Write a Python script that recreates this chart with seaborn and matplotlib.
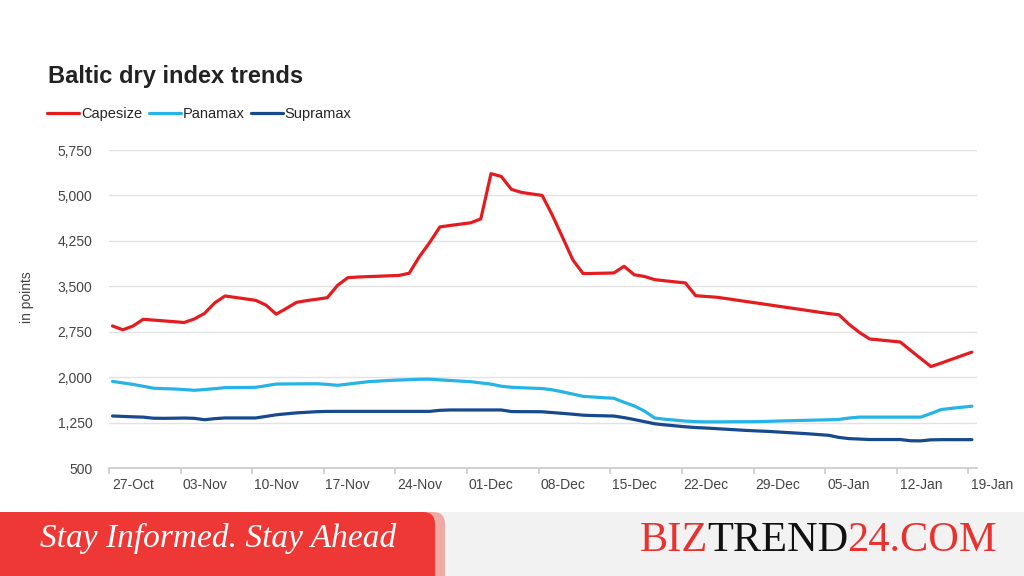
import pandas as pd
import seaborn as sns
import matplotlib.pyplot as plt
import matplotlib.dates as mdates
from matplotlib.patches import FancyBboxPatch, Rectangle
from matplotlib.transforms import ScaledTranslation
from matplotlib.ticker import FuncFormatter

# daily readings, 25-Oct-2023 .. 17-Jan-2024
dates = pd.date_range("2023-10-25", "2024-01-17", freq="D")

capesize = [2845, 2782, 2843, 2955, 2942, 2929, 2916, 2902, 2960, 3053,
            3227, 3340, 3316, 3292, 3268, 3190, 3040, 3135, 3235, 3264,
            3287, 3312, 3515, 3642, 3653, 3660, 3666, 3673, 3679, 3715,
            3990, 4222, 4480, 4504, 4526, 4548, 4612, 5360, 5313, 5100,
            5049, 5024, 5000, 4672, 4305, 3935, 3710, 3713, 3716, 3720,
            3830, 3690, 3662, 3610, 3591, 3573, 3555, 3345, 3332, 3320,
            3297, 3272, 3247, 3223, 3198, 3173, 3148, 3124, 3099, 3074,
            3050, 3030, 2872, 2740, 2630, 2614, 2597, 2580, 2443, 2308,
            2175, 2232, 2293, 2353, 2413]

panamax = [1930, 1905, 1880, 1850, 1818, 1810, 1805, 1795, 1783, 1795,
           1810, 1826, 1829, 1830, 1832, 1858, 1886, 1888, 1889, 1890,
           1891, 1880, 1865, 1885, 1905, 1925, 1935, 1945, 1952, 1958,
           1965, 1966, 1955, 1945, 1935, 1925, 1905, 1885, 1850, 1833,
           1825, 1818, 1812, 1790, 1757, 1720, 1683, 1672, 1660, 1652,
           1585, 1525, 1440, 1325, 1305, 1290, 1275, 1265, 1262, 1262,
           1263, 1264, 1265, 1266, 1270, 1275, 1280, 1284, 1288, 1292,
           1296, 1302, 1325, 1340, 1340, 1340, 1340, 1340, 1340, 1340,
           1400, 1465, 1485, 1503, 1520]

supramax = [1359, 1352, 1345, 1340, 1322, 1320, 1322, 1325, 1320, 1297,
            1315, 1326, 1326, 1326, 1326, 1352, 1378, 1395, 1410, 1420,
            1430, 1434, 1435, 1435, 1435, 1435, 1435, 1435, 1435, 1435,
            1435, 1435, 1452, 1458, 1458, 1458, 1458, 1458, 1458, 1432,
            1430, 1430, 1428, 1415, 1402, 1388, 1372, 1366, 1362, 1358,
            1332, 1300, 1265, 1230, 1212, 1196, 1180, 1168, 1160, 1150,
            1140, 1130, 1120, 1112, 1105, 1095, 1085, 1075, 1065, 1052,
            1040, 1005, 985, 978, 970, 970, 970, 970, 950, 948,
            965, 968, 968, 968, 968]

series_names = ["Capesize", "Panamax", "Supramax"]
colors = {"Capesize": "#e51c1f", "Panamax": "#26b4e6", "Supramax": "#17498f"}
y_ticks = [500, 1250, 2000, 2750, 3500, 4250, 5000, 5750]
label_dates = pd.date_range("2023-10-27", periods=13, freq="7D")

df = pd.DataFrame({"date": dates, "Capesize": capesize,
                   "Panamax": panamax, "Supramax": supramax})
long_df = df.melt(id_vars="date", value_vars=series_names,
                  var_name="series", value_name="points")

sns.set_theme(style="white")
plt.rcParams["font.family"] = ["Liberation Sans", "DejaVu Sans"]
serif = ["Liberation Serif", "DejaVu Serif"]

fig = plt.figure(figsize=(10.24, 5.76), dpi=100)
ax = fig.add_axes([109 / 1024, 1 - 468 / 576, 868 / 1024, 318 / 576])

sns.lineplot(data=long_df, x="date", y="points", hue="series",
             palette=colors, linewidth=2.3, ax=ax)

# axes styling
ax.set_ylim(500, 5750)
ax.set_yticks(y_ticks)
ax.yaxis.set_major_formatter(FuncFormatter(lambda v, p: f"{int(v):,}"))
ax.grid(axis="y", color="#e2e2e2", linewidth=1)
ax.set_axisbelow(True)
for side in ["top", "right", "left"]:
    ax.spines[side].set_visible(False)
ax.spines["bottom"].set_color("#cccccc")

ax.set_xlim(mdates.date2num(dates[0]) - 0.34, mdates.date2num(dates[-1]) + 0.5)
# tick marks sit ~2.3 days left of each date label
tick_pos = mdates.date2num(label_dates) - 2.34
ax.set_xticks(tick_pos)
ax.set_xticklabels([d.strftime("%d-%b") for d in label_dates])
ax.tick_params(axis="x", length=4, color="#cccccc", labelsize=10,
               labelcolor="#444444", pad=3, bottom=True)
ax.tick_params(axis="y", length=0, labelsize=10, labelcolor="#444444", pad=12)
shift = ScaledTranslation(0.24, 0, fig.dpi_scale_trans)
for lab in ax.get_xticklabels():
    lab.set_transform(lab.get_transform() + shift)

ax.set_xlabel("")
ax.set_ylabel("in points", fontsize=10, color="#444444")
ax.yaxis.set_label_coords(-0.0864, 0.536)

# legend on top
handles, labels = ax.get_legend_handles_labels()
ax.get_legend().remove()
fig.legend(handles, labels, loc="center left",
           bbox_to_anchor=(47 / 1024, 1 - 114 / 576), ncol=3, frameon=False,
           fontsize=10.5, handlelength=2.2, handletextpad=0.12,
           columnspacing=0.45, borderpad=0, borderaxespad=0)

fig.text(48 / 1024, 1 - 77 / 576, "Baltic dry index trends", fontsize=17,
         fontweight="bold", color="#222222", va="center", ha="left")

# footer banner
fig.patches.append(Rectangle((0, 0), 1, 64 / 576, transform=fig.transFigure,
                             facecolor="#f2f2f2", edgecolor="none", zorder=0))
fig.patches.append(FancyBboxPatch((-0.3, -0.3), 4.75, 0.94,
                                  boxstyle="round,pad=0,rounding_size=0.12",
                                  transform=fig.dpi_scale_trans,
                                  facecolor="#f0a9a6", edgecolor="none", zorder=1))
fig.patches.append(FancyBboxPatch((-0.3, -0.3), 4.65, 0.94,
                                  boxstyle="round,pad=0,rounding_size=0.12",
                                  transform=fig.dpi_scale_trans,
                                  facecolor="#ee3835", edgecolor="none", zorder=2))
fig.text(218 / 1024, 1 - 538 / 576, "Stay Informed. Stay Ahead",
         family=serif, style="italic", fontsize=24, color="white",
         ha="center", va="center", zorder=3)

# multi-colour site name, pieces placed one after another
parts = [("BIZ", "#e8322f"), ("TREND", "#111111"), ("24.COM", "#e8322f")]
fig.canvas.draw()
renderer = fig.canvas.get_renderer()
x_px = 640
for txt, col in parts:
    t = fig.text(x_px / 1024, 1 - 551 / 576, txt, fontsize=30.5, family=serif,
                 color=col, ha="left", va="baseline", zorder=3)
    x_px += t.get_window_extent(renderer).width - 1

fig.savefig("out.png", dpi=100)
